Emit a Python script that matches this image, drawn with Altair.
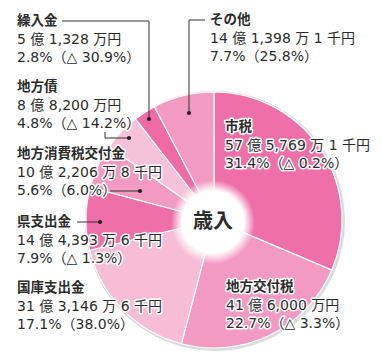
import altair as alt
import pandas as pd

# ---- data ----
categories = ["市税", "地方交付税", "国庫支出金", "県支出金", "地方消費税交付金", "地方債", "繰入金", "その他"]
amounts = ["57 億 5,769 万 1 千円", "41 億 6,000 万円", "31 億 3,146 万 6 千円", "14 億 4,393 万 6 千円",
           "10 億 2,206 万 8 千円", "8 億 8,200 万円", "5 億 1,328 万円", "14 億 1,398 万 1 千円"]
shares = [31.4, 22.7, 17.1, 7.9, 5.6, 4.8, 2.8, 7.7]
changes = ["△ 0.2%", "△ 3.3%", "38.0%", "△ 1.3%", "6.0%", "△ 14.2%", "△ 30.9%", "25.8%"]
center_label = "歳入"

# ---- layout / style (separate from data) ----
colors = ["#EF6FA9", "#F39AC3", "#F8BDD6", "#EF6FA9", "#F29AC2", "#F7C2D9", "#EE6BA6", "#F29AC2"]
label_x = [225, 226, 17, 17, 17, 17, 17, 210]
label_y = [127, 287, 288, 222, 154, 87, 21, 20]
LINE_H = 18.5
CX, CY, R = 214, 220, 128
FONT = "Noto Sans CJK JP"
FONT_NUM = "DejaVu Sans, Noto Sans CJK JP"
TXT = "#2b2b2b"

pie_df = pd.DataFrame({"cat": categories, "share": shares, "idx": list(range(len(categories)))})

rows = []
for i, c in enumerate(categories):
    lines = [(c, "bold"), (amounts[i], "normal"), (f"{shares[i]}%（{changes[i]}）", "normal")]
    for k, (t, w) in enumerate(lines):
        rows.append({"t": t, "w": w, "x": label_x[i], "y": label_y[i] + k * LINE_H})
lab_df = pd.DataFrame(rows)

segs = pd.DataFrame([
    {"x": 62, "y": 21, "x2": 149, "y2": 21},
    {"x": 149, "y": 21, "x2": 149, "y2": 119},
    {"x": 189, "y": 20, "x2": 205, "y2": 20},
    {"x": 189, "y": 20, "x2": 189, "y2": 113},
    {"x": 105, "y": 132, "x2": 105, "y2": 138},
    {"x": 105, "y": 138, "x2": 129, "y2": 138},
    {"x": 110, "y": 191, "x2": 140, "y2": 191},
    {"x": 77, "y": 222, "x2": 100, "y2": 222},
])
dots = pd.DataFrame([
    {"x": 149, "y": 119}, {"x": 189, "y": 113}, {"x": 129, "y": 138},
    {"x": 140, "y": 191}, {"x": 100, "y": 222},
])
one = pd.DataFrame({"a": [1]})

shadow = alt.Chart(one).mark_arc(outerRadius=R + 2, theta=0, theta2=6.2832, color="#999999", opacity=0.35).encode(
    x=alt.value(CX + 1), y=alt.value(CY + 1))

pie = alt.Chart(pie_df).mark_arc(outerRadius=R, innerRadius=0, stroke="white", strokeWidth=1.2).encode(
    theta=alt.Theta("share:Q", stack=True),
    order=alt.Order("idx:Q"),
    color=alt.Color("cat:N", scale=alt.Scale(domain=categories, range=colors), legend=None),
    x=alt.value(CX), y=alt.value(CY),
)

glow = alt.Chart(one).mark_arc(
    outerRadius=42, theta=0, theta2=6.2832,
    color=alt.RadialGradient(
        gradient="radial", x1=0.5, y1=0.5, r1=0, x2=0.5, y2=0.5, r2=0.5,
        stops=[alt.GradientStop(offset=0, color="#ffffff"),
               alt.GradientStop(offset=0.74, color="#ffffff"),
               alt.GradientStop(offset=1, color="rgba(255,255,255,0)")],
    ),
).encode(x=alt.value(CX - 1), y=alt.value(CY + 2))

center = alt.Chart(pd.DataFrame({"t": [center_label]})).mark_text(
    font=FONT, fontSize=20, fontWeight="bold", color=TXT, align="center", baseline="middle"
).encode(text="t:N", x=alt.value(CX - 1), y=alt.value(CY + 2))

rules = alt.Chart(segs).mark_rule(color="#333333", strokeWidth=1).encode(
    x=alt.X("x:Q", scale=None), y=alt.Y("y:Q", scale=None),
    x2="x2:Q", y2="y2:Q")

pts = alt.Chart(dots).mark_point(filled=True, size=18, color="#222222", opacity=1).encode(
    x=alt.X("x:Q", scale=None), y=alt.Y("y:Q", scale=None))

def text_layer(weight, halo):
    if weight == "bold":
        props = dict(font=FONT, fontSize=13.5, fontWeight="bold")
    else:
        props = dict(font=FONT_NUM, fontSize=14, fontWeight="normal")
    props.update(align="left", baseline="middle")
    if halo:
        props.update(stroke="white", strokeWidth=3, strokeJoin="round", color="white")
    else:
        props.update(color=TXT)
    return alt.Chart(lab_df).transform_filter(alt.datum.w == weight).mark_text(**props).encode(
        x=alt.X("x:Q", scale=None), y=alt.Y("y:Q", scale=None), text="t:N")

chart = alt.layer(
    shadow, pie, glow, center, rules, pts,
    text_layer("bold", True), text_layer("normal", True),
    text_layer("bold", False), text_layer("normal", False),
).properties(
    width=382, height=357, padding=0, autosize=alt.AutoSizeParams(type="none")
).configure_view(stroke=None)

chart.save("out.html", embed_options={"renderer": "svg", "actions": False})
